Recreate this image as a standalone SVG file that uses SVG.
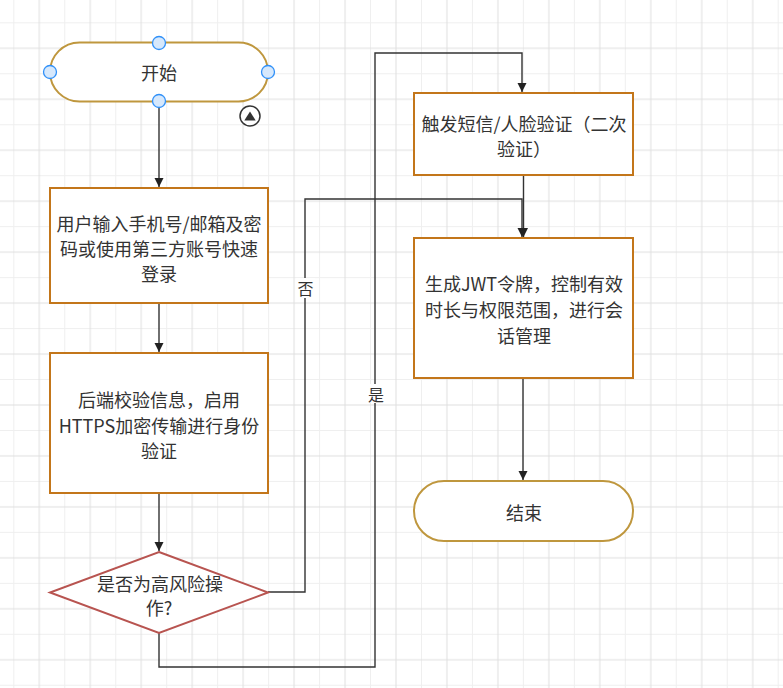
<svg xmlns="http://www.w3.org/2000/svg" width="783" height="688" viewBox="0 0 783 688">
<style>
.t{font-family:"Noto Sans CJK SC","Liberation Sans",sans-serif;font-size:18px;fill:#333;text-anchor:middle;dominant-baseline:central}
.lbl{font-family:"Noto Sans CJK SC","Liberation Sans",sans-serif;font-size:16px;fill:#333;text-anchor:middle;dominant-baseline:central}
.term{fill:#fff;stroke:#bf973e;stroke-width:2}
.proc{fill:#fff;stroke:#c3761a;stroke-width:2}
.dec{fill:#fff;stroke:#b85450;stroke-width:2}
.edge{fill:none;stroke:#333;stroke-width:1.4}
.cp{fill:#d6e8fc;stroke:#3090f8;stroke-width:1.3}
</style>
<defs>
<pattern id="grid" patternUnits="userSpaceOnUse" x="13.3" y="22.3" width="50.96" height="50.96">
<path d="M0.5 0V50.96M0 0.5H50.96" stroke="#efefef" stroke-width="1" fill="none"/>
<path d="M25.98 0V50.96M0 25.98H50.96" stroke="#e0e0e0" stroke-width="1" fill="none"/>
</pattern>
<marker id="arr" markerWidth="10" markerHeight="10" refX="9" refY="4.5" orient="auto" markerUnits="userSpaceOnUse">
<path d="M0 0L9 4.5L0 9Z" fill="#222"/>
</marker>
</defs>
<rect width="783" height="688" fill="#fff"/>
<rect width="783" height="688" fill="url(#grid)"/>

<g id="connectors">
<path class="edge" d="M159 101V187" marker-end="url(#arr)"/>
<path class="edge" d="M159 303V352" marker-end="url(#arr)"/>
<path class="edge" d="M159 493V551" marker-end="url(#arr)"/>
<path class="edge" d="M268 592H305V199H522V237" marker-end="url(#arr)"/>
<path class="edge" d="M159 633V667H375V53H522V92" marker-end="url(#arr)"/>
<path class="edge" d="M523.5 175V237" marker-end="url(#arr)"/>
<path class="edge" d="M523 378V480" marker-end="url(#arr)"/>
<rect x="296" y="278" width="19" height="20" fill="#fff"/>
<text class="lbl" x="305.5" y="288">否</text>
<rect x="366" y="384" width="20" height="19" fill="#fff"/>
<text class="lbl" x="376" y="393.5">是</text>
</g>

<g id="start">
<rect class="term" x="50" y="42.5" width="218" height="59" rx="29.5"/>
<text class="t" x="159" y="72">开始</text>
<circle class="cp" cx="159" cy="43" r="6.5"/>
<circle class="cp" cx="50" cy="72" r="6.5"/>
<circle class="cp" cx="268" cy="72" r="6.5"/>
<circle class="cp" cx="159" cy="101" r="6.5"/>
<circle cx="250" cy="116" r="10" fill="#fff" stroke="#333" stroke-width="1.5"/>
<path d="M244.3 120.5H255.7L250 111.5Z" fill="#333"/>
</g>

<g id="login">
<rect class="proc" x="50" y="188" width="218" height="115"/>
<text class="t" x="159" y="223">用户输入手机号/邮箱及密</text>
<text class="t" x="159" y="248">码或使用第三方账号快速</text>
<text class="t" x="159" y="273">登录</text>
</g>

<g id="verify">
<rect class="proc" x="50" y="353" width="218" height="140"/>
<text class="t" x="159" y="399">后端校验信息，启用</text>
<text class="t" x="159" y="425">HTTPS加密传输进行身份</text>
<text class="t" x="159" y="450">验证</text>
</g>

<g id="decision">
<path class="dec" d="M159 552L268 592.5L159 633L50 592.5Z"/>
<text class="t" x="160" y="582.5">是否为高风险操</text>
<text class="t" x="159" y="606.5">作?</text>
</g>

<g id="second">
<rect class="proc" x="414" y="93" width="219" height="82"/>
<text class="t" x="524" y="123">触发短信/人脸验证（二次</text>
<text class="t" x="524" y="148">验证）</text>
</g>

<g id="jwt">
<rect class="proc" x="414" y="238" width="219" height="140"/>
<text class="t" x="524" y="283">生成JWT令牌，控制有效</text>
<text class="t" x="524" y="309">时长与权限范围，进行会</text>
<text class="t" x="524" y="335">话管理</text>
</g>

<g id="end">
<rect class="term" x="414" y="481" width="219" height="60" rx="30"/>
<text class="t" x="524" y="511.5">结束</text>
</g>
</svg>
